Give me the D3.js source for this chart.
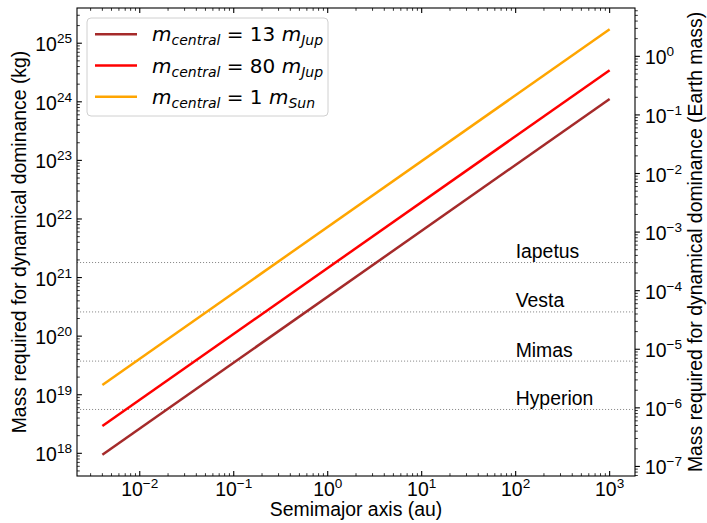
<!DOCTYPE html>
<html>
<head>
<meta charset="utf-8">
<script src="https://cdn.jsdelivr.net/npm/d3@7"></script>
<style>
  html, body { margin: 0; padding: 0; background: #fff; }
  svg { display: block; }
</style>
</head>
<body>
<svg id="chart" width="707" height="523"></svg>
<script>
// ---------------- data ----------------
const semimajorAxis = [0.004, 1000];                 // au (line end points)
const seriesNames = ["13 m_Jup", "80 m_Jup", "1 m_Sun"];
const mass13Jup = [9.46e17, 1.12e24];               // kg
const mass80Jup = [2.92e18, 3.46e24];               // kg
const mass1Sun  = [1.47e19, 1.73e25];               // kg
const moonNames  = ["Iapetus", "Vesta", "Mimas", "Hyperion"];
const moonMasses = [1.806e21, 2.59e20, 3.75e19, 5.6e18];  // kg
const earthMass = 5.972e24;                          // kg
const xTickExps = [-2, -1, 0, 1, 2, 3];
const yTickExps = [18, 19, 20, 21, 22, 23, 24, 25];
const yRightTickExps = [-7, -6, -5, -4, -3, -2, -1, 0];
const labelAxisX = 100;   // au, where moon names sit

// ---------------- layout ----------------
const svg = d3.select("#chart");
const L = 77, R = 635, T = 8, B = 476;
const sansFont = "'Liberation Sans', Arial, Helvetica, sans-serif";
const mathFont = "'DejaVu Sans', sans-serif";
const tickFS = 19.4, labelFS = 19.4;

const series = [
  { name: seriesNames[0], vals: mass13Jup, color: "#a52a2a", big: "13", sub: "Jup" },
  { name: seriesNames[1], vals: mass80Jup, color: "#ff0000", big: "80", sub: "Jup" },
  { name: seriesNames[2], vals: mass1Sun,  color: "#ffa500", big: "1",  sub: "Sun" }
];

// matplotlib-style 5% margins in log space
function logDomain(vals) {
  const lo = Math.log10(d3.min(vals)), hi = Math.log10(d3.max(vals));
  const m = 0.05 * (hi - lo);
  return [Math.pow(10, lo - m), Math.pow(10, hi + m)];
}
const xDom = logDomain(semimajorAxis);
const yDom = logDomain([].concat(mass13Jup, mass80Jup, mass1Sun));

const x = d3.scaleLog().domain(xDom).range([L, R]);
const y = d3.scaleLog().domain(yDom).range([B, T]);
const y2 = d3.scaleLog().domain([yDom[0] / earthMass, yDom[1] / earthMass]).range([B, T]);

function logTicks(dom) {
  const major = [], minor = [];
  const e0 = Math.floor(Math.log10(dom[0])), e1 = Math.ceil(Math.log10(dom[1]));
  for (let e = e0; e <= e1; e++) {
    for (let k = 1; k <= 9; k++) {
      const v = k * Math.pow(10, e);
      if (v >= dom[0] && v <= dom[1]) (k === 1 ? major : minor).push(v);
    }
  }
  return { major, minor };
}

// ---------------- horizontal moon lines ----------------
const gMoon = svg.append("g");
moonMasses.forEach((m, i) => {
  gMoon.append("line")
    .attr("x1", L).attr("x2", R)
    .attr("y1", y(m)).attr("y2", y(m))
    .attr("stroke", "#8c8c8c").attr("stroke-width", 1)
    .attr("stroke-dasharray", "1.1,1.9");
  gMoon.append("text")
    .attr("x", x(labelAxisX)).attr("y", y(m) - 4.5)
    .attr("font-family", sansFont).attr("font-size", labelFS)
    .attr("fill", "#000")
    .text(moonNames[i]);
});

// ---------------- lines ----------------
const line = d3.line().x(d => x(d[0])).y(d => y(d[1]));
series.forEach(s => {
  svg.append("path")
    .datum(semimajorAxis.map((a, i) => [a, s.vals[i]]))
    .attr("d", line)
    .attr("fill", "none")
    .attr("stroke", s.color)
    .attr("stroke-width", 2.5);
});

// ---------------- axes ----------------
const gAx = svg.append("g").attr("stroke", "#000");
const xt = logTicks(xDom), yt = logTicks(yDom), y2t = logTicks(y2.domain());
const majLen = 4.9, minLen = 2.8;

function tick(x1, y1, x2, y2_, w) {
  gAx.append("line").attr("x1", x1).attr("y1", y1).attr("x2", x2).attr("y2", y2_)
    .attr("stroke-width", w);
}
// x ticks bottom & top (inward)
xt.major.forEach(v => { tick(x(v), B, x(v), B - majLen, 1.1); tick(x(v), T, x(v), T + majLen, 1.1); });
xt.minor.forEach(v => { tick(x(v), B, x(v), B - minLen, 0.8); tick(x(v), T, x(v), T + minLen, 0.8); });
// y left ticks (inward)
yt.major.forEach(v => tick(L, y(v), L + majLen, y(v), 1.1));
yt.minor.forEach(v => tick(L, y(v), L + minLen, y(v), 0.8));
// y right ticks (outward)
y2t.major.forEach(v => tick(R, y2(v), R + majLen, y2(v), 1.1));
y2t.minor.forEach(v => tick(R, y2(v), R + minLen, y2(v), 0.8));

// frame
svg.append("rect").attr("x", L).attr("y", T).attr("width", R - L).attr("height", B - T)
  .attr("fill", "none").attr("stroke", "#000").attr("stroke-width", 1.1);

// tick labels
function powLabel(g, px, py, exp, anchor) {
  const t = g.append("text").attr("x", px).attr("y", py)
    .attr("font-family", sansFont).attr("font-size", tickFS)
    .attr("text-anchor", anchor).attr("fill", "#000");
  t.append("tspan").text("10");
  t.append("tspan").attr("dy", -8).attr("font-size", tickFS * 0.7)
    .text(String(exp).replace("-", "\u2212"));
  return t;
}
const gLab = svg.append("g");
xTickExps.forEach(e => powLabel(gLab, x(Math.pow(10, e)), 496, e, "middle"));
yTickExps.forEach(e => powLabel(gLab, L - 5, y(Math.pow(10, e)) + 8, e, "end"));
yRightTickExps.forEach(e => powLabel(gLab, R + 10, y2(Math.pow(10, e)) + 8, e, "start"));

// axis labels
svg.append("text").attr("x", (L + R) / 2).attr("y", 516)
  .attr("text-anchor", "middle").attr("font-family", sansFont).attr("font-size", labelFS)
  .text("Semimajor axis (au)");
svg.append("text").attr("transform", `translate(26,${(T + B) / 2}) rotate(-90)`)
  .attr("text-anchor", "middle").attr("font-family", sansFont).attr("font-size", labelFS)
  .text("Mass required for dynamical dominance (kg)");
svg.append("text").attr("transform", `translate(702,${(T + B) / 2}) rotate(-90)`)
  .attr("text-anchor", "middle").attr("font-family", sansFont).attr("font-size", labelFS)
  .text("Mass required for dynamical dominance (Earth mass)");

// ---------------- legend ----------------
const gLeg = svg.append("g");
gLeg.append("rect").attr("x", 87).attr("y", 18).attr("width", 241).attr("height", 98)
  .attr("rx", 4).attr("ry", 4)
  .attr("fill", "#fff").attr("fill-opacity", 0.8)
  .attr("stroke", "#d0d0d0").attr("stroke-width", 1);
const legFS = 20, subFS = legFS * 0.7;
series.forEach((s, i) => {
  const ly = 34.3 + i * 31.2;
  gLeg.append("line").attr("x1", 95).attr("x2", 137).attr("y1", ly).attr("y2", ly)
    .attr("stroke", s.color).attr("stroke-width", 2.5);
  const t = gLeg.append("text").attr("x", 152).attr("y", ly + 7)
    .attr("font-family", mathFont).attr("font-size", legFS).attr("fill", "#000")
    .attr("xml:space", "preserve").style("white-space", "pre");
  t.append("tspan").attr("font-style", "italic").text("m");
  t.append("tspan").attr("font-style", "italic").attr("font-size", subFS).attr("dy", 4).text("central");
  t.append("tspan").attr("dy", -4).text(" = " + s.big + " ");
  t.append("tspan").attr("font-style", "italic").text("m");
  t.append("tspan").attr("font-style", "italic").attr("font-size", subFS).attr("dy", 4).text(s.sub);
});
</script>
</body>
</html>
